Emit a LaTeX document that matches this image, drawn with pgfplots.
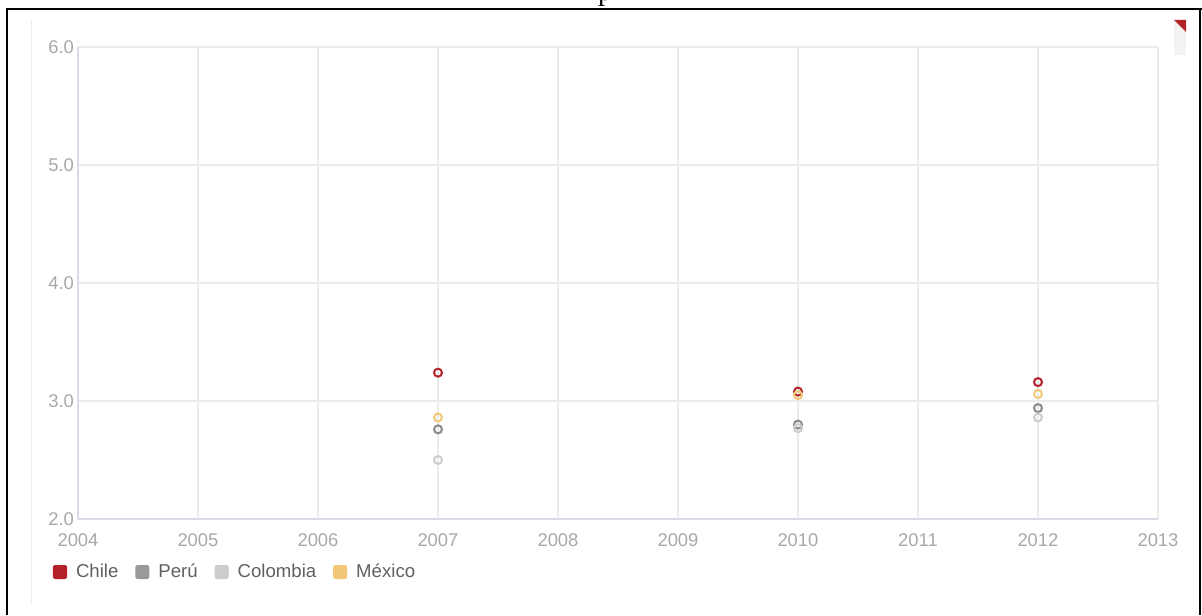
\documentclass[border=0pt]{standalone}
\usepackage{pgfplots}
\pgfplotsset{compat=1.18}
\usepackage{fontspec}
\setmainfont{Liberation Sans}
\newfontfamily\seriffont{Liberation Serif}
\definecolor{cchile}{HTML}{B5232A}
\definecolor{cperu}{HTML}{999999}
\definecolor{ccol}{HTML}{CCCCCC}
\definecolor{cmex}{HTML}{F0C878}
\definecolor{gridgray}{HTML}{EBEBEB}
\definecolor{axisgray}{HTML}{D8DCE4}
\definecolor{ticklab}{HTML}{A8A8A8}
\definecolor{legtext}{HTML}{606060}
\begin{document}
\begin{tikzpicture}
\useasboundingbox (-39pt,-48pt) rectangle (562pt,259.5pt);
% outer frame of the screenshot
\draw[black, line width=1pt] (-35.5pt,-48pt) -- (-35.5pt,255pt) -- (562pt,255pt);
\draw[black, line width=1pt] (561pt,255pt) -- (561pt,-48pt);
% chart container edge
\draw[gridgray, line width=0.5pt] (-23pt,-43pt) -- (-23pt,249.5pt);
% cut title letter
\node[anchor=base, inner sep=0pt, font=\seriffont\fontsize{14}{14}\selectfont] at (263.5pt,259pt) {p};
% export icon
\fill[gridgray!60] (548pt,232pt) rectangle (554pt,249.5pt);
\fill[cchile] (548pt,249.5pt) -- (554pt,249.5pt) -- (554pt,243.5pt) -- cycle;
\begin{axis}[
  at={(0pt,0pt)}, anchor=south west,
  scale only axis, width=540pt, height=236pt,
  xmin=2004, xmax=2013, ymin=2, ymax=6,
  xtick={2004,2005,...,2013}, ytick={2,3,4,5,6},
  grid=major, major grid style={color=gridgray, line width=0.8pt},
  axis line style={color=gridgray, line width=0.8pt},
  major tick length=0pt,
  ticklabel style={font=\fontsize{9.2}{10}\selectfont, text=ticklab},
  /pgf/number format/assume math mode=true,
  xticklabel style={yshift=-4pt, /pgf/number format/1000 sep={}},
  yticklabel style={xshift=1.5pt, /pgf/number format/.cd, fixed, fixed zerofill, precision=1},
  legend columns=-1,
  legend style={draw=none, fill=none, inner sep=0pt, outer sep=0pt,
    at={(axis description cs:0,0)}, anchor=west, xshift=-12.5pt, yshift=-26.5pt,
    font=\fontsize{9.3}{10}\selectfont, text=legtext,
    nodes={inner sep=0pt},
    /tikz/every odd column/.append style={column sep=4.5pt},
    /tikz/every even column/.append style={column sep=8.5pt}},
  clip=false,
]
\draw[axisgray, line width=0.8pt] (rel axis cs:0,0) -- (rel axis cs:0,1);
\draw[axisgray, line width=0.8pt] (rel axis cs:0,0) -- (rel axis cs:1,0);
\addplot[only marks, mark=o, mark size=2pt, mark options={draw=cchile, fill=white, line width=1pt},
  legend image code/.code={\fill[cchile, rounded corners=1pt] (0pt,-3.3pt) rectangle (6.6pt,3.3pt);}]
  coordinates {(2007,3.24) (2010,3.08) (2012,3.16)};
\addlegendentry{Chile}
\addplot[only marks, mark=o, mark size=2pt, mark options={draw=cperu!90!black, fill=white, line width=1pt},
  legend image code/.code={\fill[cperu, rounded corners=1pt] (0pt,-3.3pt) rectangle (6.6pt,3.3pt);}]
  coordinates {(2007,2.76) (2010,2.80) (2012,2.94)};
\addlegendentry{Perú}
\addplot[only marks, mark=o, mark size=2pt, mark options={draw=ccol, fill=white, line width=1pt},
  legend image code/.code={\fill[ccol, rounded corners=1pt] (0pt,-3.3pt) rectangle (6.6pt,3.3pt);}]
  coordinates {(2007,2.50) (2010,2.77) (2012,2.86)};
\addlegendentry{Colombia}
\addplot[only marks, mark=o, mark size=2pt, mark options={draw=cmex, fill=white, line width=1pt},
  legend image code/.code={\fill[cmex, rounded corners=1pt] (0pt,-3.3pt) rectangle (6.6pt,3.3pt);}]
  coordinates {(2007,2.86) (2010,3.05) (2012,3.06)};
\addlegendentry{México}
\end{axis}
\end{tikzpicture}
\end{document}
